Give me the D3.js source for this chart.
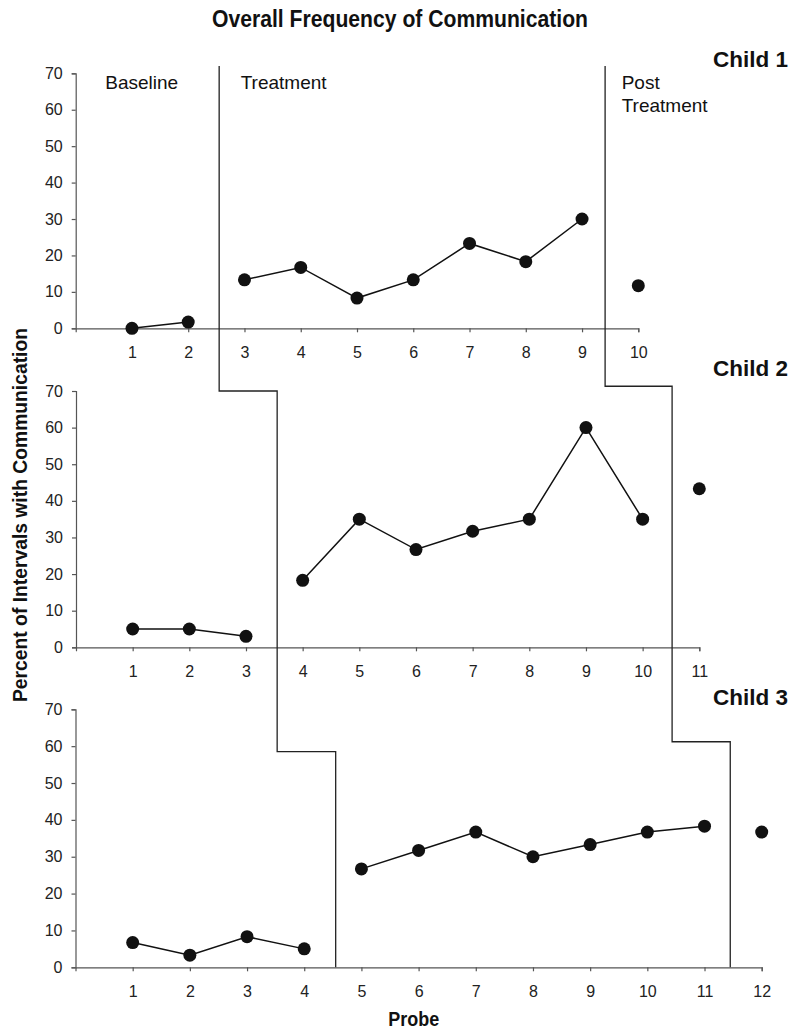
<!DOCTYPE html>
<html lang="en">
<head>
  <meta charset="utf-8" />
  <title>Overall Frequency of Communication</title>
  <script src="https://d3js.org/d3.v7.min.js"></script>
  <style>
    body { margin: 0; background: #fff; }
    svg { display: block; font-family: "Liberation Sans", Arial, Helvetica, sans-serif; }
    .axis path, .axis line { stroke: #555; stroke-width: 1.2; }
    .axis text { font-size: 16px; fill: #222; font-family: "Liberation Sans", Arial, Helvetica, sans-serif; }
  </style>
</head>
<body>
  <svg id="chart" width="800" height="1036"></svg>
  <script>
    // percent of intervals with communication, one value per probe
    const child1 = [0, 1.7, 13.3, 16.7, 8.3, 13.3, 23.3, 18.3, 30, 11.7];
    const child2 = [5, 5, 3, 18.3, 35, 26.7, 31.7, 35, 60, 35, 43.3];
    const child3 = [6.7, 3.3, 8.3, 5, 26.7, 31.7, 36.7, 30, 33.3, 36.7, 38.3, 36.7];

    // number of probes in each phase (baseline, treatment, post treatment)
    const phases1 = [2, 7, 1];
    const phases2 = [3, 7, 1];
    const phases3 = [4, 7, 1];

    const childNames = ["Child 1", "Child 2", "Child 3"];
    const yTicks = [0, 10, 20, 30, 40, 50, 60, 70];

    // phase-change lines, in probe units per panel, and the level where each step turns
    const changeA = [2.55, 3.55, 4.55];
    const changeB = [9.41, 10.52, 11.45];
    const levelsA = [72, 70, 58.5];
    const levelsB = [72, 71.3, 61.2];

    const svg = d3.select("#chart");

    const panels = [
      { data: child1, phases: phases1, x0: 75.7, x1: 638.3, yTop: 73.3, yBot: 328.3, labelY: 67 },
      { data: child2, phases: phases2, x0: 76, x1: 699.3, yTop: 391, yBot: 647.3, labelY: 376 },
      { data: child3, phases: phases3, x0: 75.5, x1: 761.7, yTop: 709.3, yBot: 967.3, labelY: 705 }
    ];

    panels.forEach((p, i) => {
      const n = p.data.length;
      p.x = d3.scaleLinear().domain([0, n]).range([p.x0, p.x1]);
      p.y = d3.scaleLinear().domain([0, 70]).range([p.yBot, p.yTop]);

      const g = svg.append("g");

      g.append("g")
        .attr("class", "axis")
        .attr("transform", `translate(0,${p.yBot})`)
        .call(d3.axisBottom(p.x)
          .tickValues(d3.range(1, n + 1))
          .tickFormat(d3.format("d"))
          .tickSizeInner(4).tickSizeOuter(4).tickPadding(14));

      g.append("g")
        .attr("class", "axis")
        .attr("transform", `translate(${p.x0},0)`)
        .call(d3.axisLeft(p.y)
          .tickValues(yTicks)
          .tickSizeInner(4).tickSizeOuter(4).tickPadding(9));

      // split the series into its phases
      let start = 0;
      const segs = p.phases.map(len => {
        const s = p.data.slice(start, start + len).map((v, j) => ({ probe: start + j + 1, v }));
        start += len;
        return s;
      });

      const line = d3.line().x(d => p.x(d.probe)).y(d => p.y(d.v));
      g.selectAll("path.series")
        .data(segs.filter(s => s.length > 1))
        .enter().append("path")
        .attr("class", "series")
        .attr("d", line)
        .attr("fill", "none")
        .attr("stroke", "#111")
        .attr("stroke-width", 1.5);

      g.selectAll("circle")
        .data(segs.flat())
        .enter().append("circle")
        .attr("cx", d => p.x(d.probe))
        .attr("cy", d => p.y(d.v))
        .attr("r", 6.5)
        .attr("fill", "#111");

      g.append("text")
        .attr("x", 788)
        .attr("y", p.labelY)
        .attr("text-anchor", "end")
        .attr("font-size", 22.5)
        .attr("font-weight", "bold")
        .attr("fill", "#111")
        .text(childNames[i]);
    });

    // stepped phase-change lines running through all three panels
    function stepPath(change, levels) {
      const pts = [];
      panels.forEach((p, i) => {
        pts.push([p.x(change[i]), p.y(levels[i])]);
        const next = panels[i + 1];
        if (next) pts.push([p.x(change[i]), next.y(levels[i + 1])]);
        else pts.push([p.x(change[i]), p.y(0)]);
      });
      return d3.line()(pts);
    }
    [[changeA, levelsA], [changeB, levelsB]].forEach(([c, l]) => {
      svg.append("path")
        .attr("d", stepPath(c, l))
        .attr("fill", "none")
        .attr("stroke", "#222")
        .attr("stroke-width", 1.3);
    });

    // phase names in the top panel
    const phaseText = svg.append("g").attr("font-size", 19).attr("fill", "#111");
    phaseText.append("text").attr("x", 105.3).attr("y", 89).text("Baseline");
    phaseText.append("text").attr("x", 240.7).attr("y", 89).text("Treatment");
    phaseText.append("text").attr("x", 621.7).attr("y", 89).text("Post");
    phaseText.append("text").attr("x", 621.7).attr("y", 111.5).text("Treatment");

    // title and axis titles
    svg.append("text")
      .attr("x", 400).attr("y", 27)
      .attr("text-anchor", "middle")
      .attr("font-size", 23.5).attr("font-weight", "bold").attr("fill", "#111")
      .attr("textLength", 376).attr("lengthAdjust", "spacingAndGlyphs")
      .text("Overall Frequency of Communication");

    svg.append("text")
      .attr("transform", "translate(27,515) rotate(-90)")
      .attr("text-anchor", "middle")
      .attr("font-size", 21).attr("font-weight", "bold").attr("fill", "#111")
      .attr("textLength", 374).attr("lengthAdjust", "spacingAndGlyphs")
      .text("Percent of Intervals with Communication");

    svg.append("text")
      .attr("x", 413.7).attr("y", 1026)
      .attr("text-anchor", "middle")
      .attr("font-size", 20).attr("font-weight", "bold").attr("fill", "#111")
      .attr("textLength", 51).attr("lengthAdjust", "spacingAndGlyphs")
      .text("Probe");
  </script>
</body>
</html>
